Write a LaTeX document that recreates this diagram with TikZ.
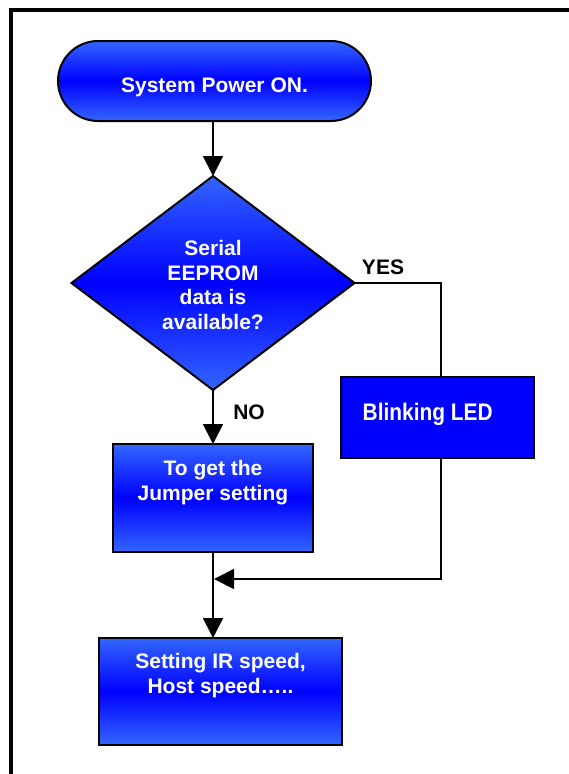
\documentclass[tikz,border=0pt]{standalone}
\usepackage{fontspec}
\setmainfont{Liberation Sans}
\newfontfamily\narrowfont[FakeStretch=0.87]{Liberation Sans}
\usetikzlibrary{shapes.geometric,arrows.meta,calc}
\definecolor{lightblu}{RGB}{51,102,255}
\definecolor{pureblu}{RGB}{0,0,255}
\begin{document}
\begin{tikzpicture}[x=1pt,y=-1pt,
  shapeline/.style={draw=black,line width=2pt,inner sep=0pt,outer sep=0pt},
  grad/.style={shapeline,top color=lightblu,bottom color=lightblu,middle color=pureblu},
  term/.style={grad,rectangle,rounded corners=40pt,minimum width=313pt,minimum height=80pt},
  dia/.style={grad,diamond,minimum width=283pt,minimum height=214pt},
  gbox/.style={grad,rectangle},
  flatbox/.style={shapeline,rectangle,fill=pureblu,minimum width=193pt,minimum height=81pt},
  wtxt/.style={text=white,align=center,inner sep=0pt,font=\bfseries\fontsize{21}{25}\selectfont},
  btxt/.style={text=black,inner sep=0pt,font=\bfseries\fontsize{21}{25}\selectfont},
  conn/.style={line width=1.8pt},
  arr/.style={conn,-{Triangle[length=20pt,width=20pt]}}
]
\useasboundingbox (0,0) rectangle (569,774);
\begin{scope}
  \clip (0,0) rectangle (569,774);
  \draw[line width=4pt] (11,10) rectangle (640,840);
\end{scope}

% shapes
\node[term] (start) at (214.5,81) {};
\node[wtxt] (startlbl) at (214.5,87.5) {System Power ON.};

\node[dia] (dec) at (213,283) {};
\node[wtxt,font=\bfseries\fontsize{21}{24.7}\selectfont] (declbl) at (213,285) {Serial\\EEPROM\\data is\\available?};

\node[gbox,minimum width=200pt,minimum height=108pt] (jump) at (213,498) {};
\node[wtxt] (jumplbl) at (213,482.5) {To get the\\Jumper setting};

\node[flatbox] (blink) at (437.5,417.5) {};
\node[wtxt,font=\narrowfont\bfseries\fontsize{24}{28}\selectfont] (blinklbl) at (427.7,414.5) {Blinking LED};

\node[gbox,minimum width=243pt,minimum height=107pt] (final) at (220.5,691.5) {};
\node[wtxt] (finallbl) at (220.5,676) {Setting IR speed,\\Host speed…..};

% labels
\node[btxt] (yes) at (383,267) {YES};
\node[btxt] (no) at (249,412) {NO};

% helper coordinates
\coordinate (yescol) at (441,0);
\coordinate (merge) at (214,579);

% connectors
\draw[arr] (start.south -| dec.north) -- (dec.north);
\draw[arr] (dec.south) -- (jump.north);
\draw[conn] (dec.east) -| (blink.north -| yescol);
\draw[arr] (blink.south -| yescol) |- (merge);
\draw[arr] (jump.south) -- (final.north -| jump.south);
\end{tikzpicture}
\end{document}
